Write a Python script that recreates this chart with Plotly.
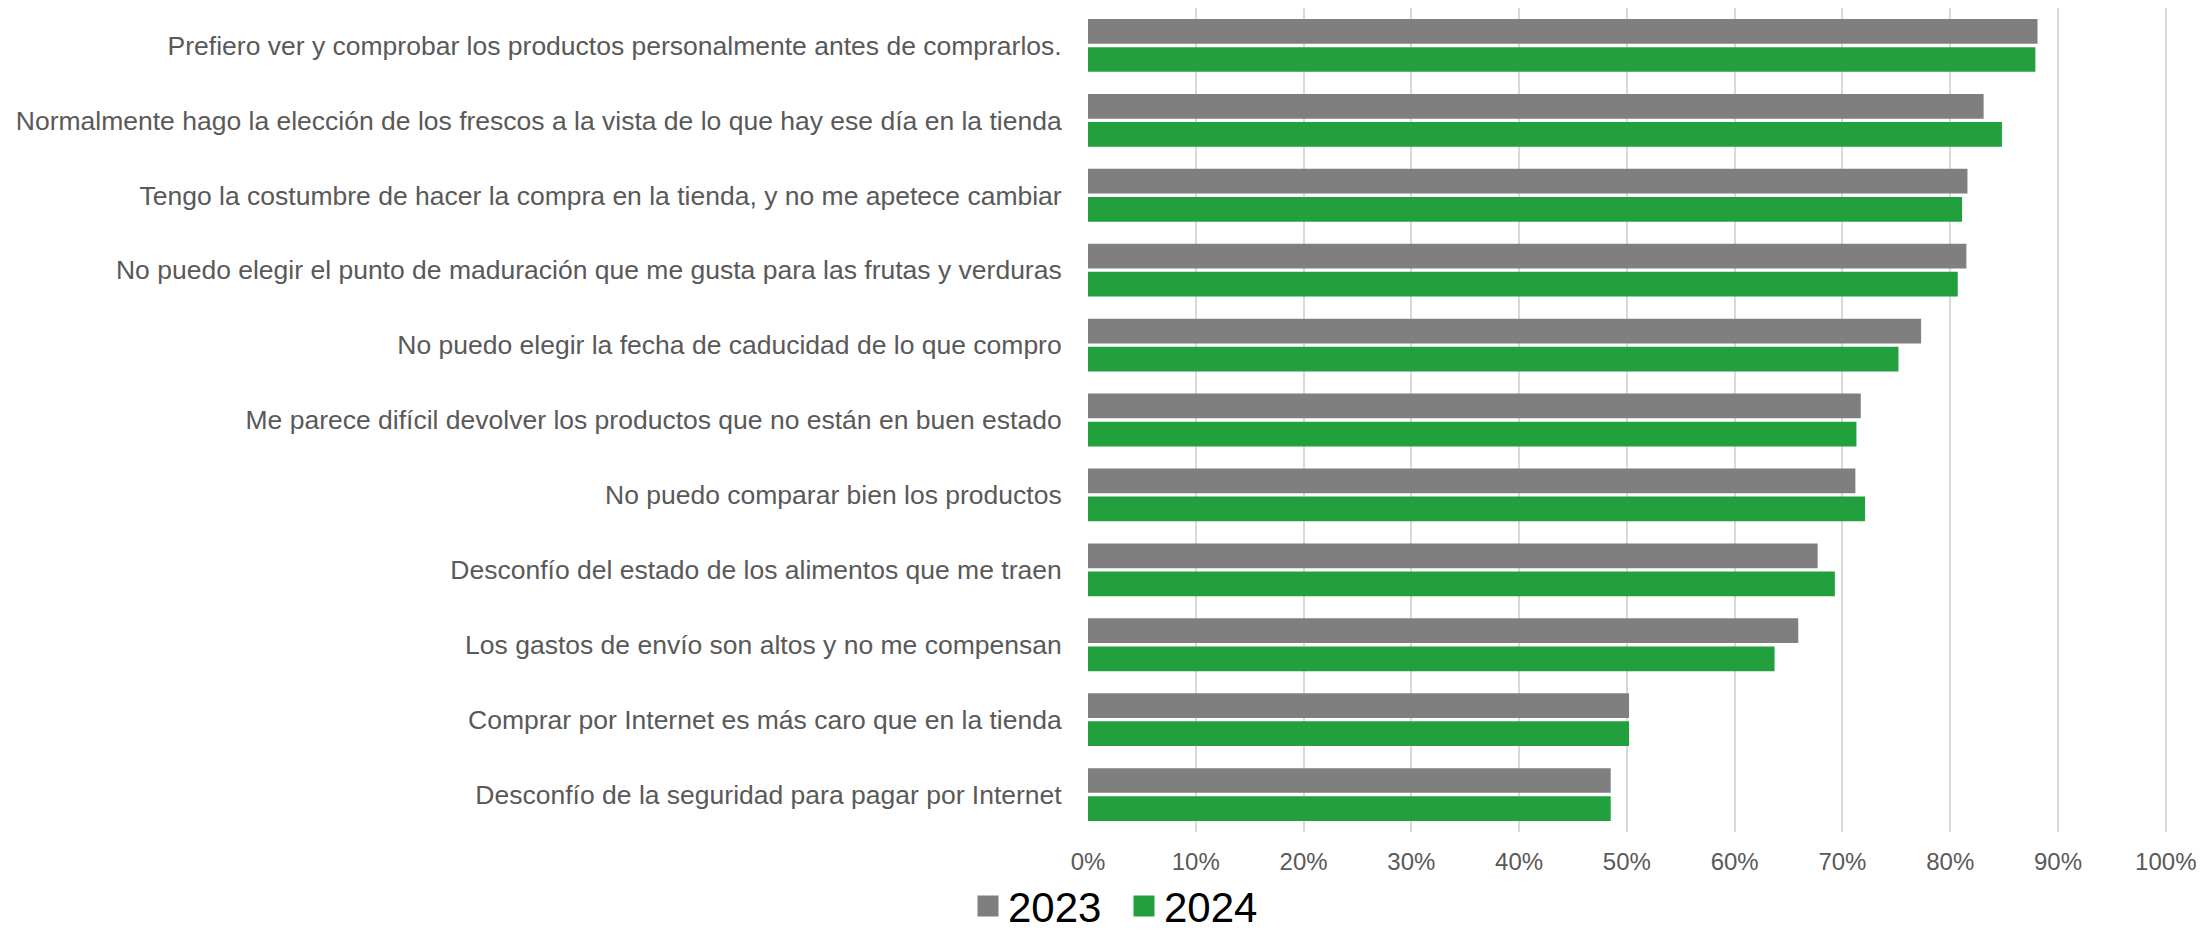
import plotly.graph_objects as go

categories = [
    "Prefiero ver y comprobar los productos personalmente antes de comprarlos.",
    "Normalmente hago la elección de los frescos a la vista de lo que hay ese día en la tienda",
    "Tengo la costumbre de hacer la compra en la tienda, y no me apetece cambiar",
    "No puedo elegir el punto de maduración que me gusta para las frutas y verduras",
    "No puedo elegir la fecha de caducidad de lo que compro",
    "Me parece difícil devolver los productos que no están en buen estado",
    "No puedo comparar bien los productos",
    "Desconfío del estado de los alimentos que me traen",
    "Los gastos de envío son altos y no me compensan",
    "Comprar por Internet es más caro que en la tienda",
    "Desconfío de la seguridad para pagar por Internet",
]
values_2023 = [0.881, 0.831, 0.816, 0.815, 0.773, 0.717, 0.712, 0.677, 0.659, 0.502, 0.485]
values_2024 = [0.879, 0.848, 0.811, 0.807, 0.752, 0.713, 0.721, 0.693, 0.637, 0.502, 0.485]
series_names = ["2023", "2024"]
tick_values = [i / 10 for i in range(11)]
tick_labels = [f"{i * 10}%" for i in range(11)]

colors = ["#7f7f7f", "#23a03e"]
FONT = "Arial, Liberation Sans, sans-serif"

fig = go.Figure()
for name, vals, col in zip(series_names, [values_2023, values_2024], colors):
    fig.add_trace(go.Bar(
        y=categories, x=vals, name=name, orientation="h",
        marker=dict(color=col, line=dict(width=0)),
        showlegend=False,
    ))
# legend entries (square swatches)
for name, col in zip(series_names, colors):
    fig.add_trace(go.Scatter(
        x=[None], y=[None], name=name, mode="markers",
        marker=dict(symbol="square", size=16, color=col, line=dict(width=5, color=col)),
        showlegend=True,
    ))

fig.update_layout(
    width=2197, height=931,
    margin=dict(l=1080, r=36, t=0, b=107, pad=0, autoexpand=False),
    paper_bgcolor="white", plot_bgcolor="white",
    barmode="group", bargap=0.25, bargroupgap=0.12,
    font=dict(family=FONT, color="#595959"),
    legend=dict(
        orientation="h", x=-0.111, xanchor="left", y=-0.09, yanchor="middle",
        font=dict(size=42, color="#000000", family=FONT),
        traceorder="normal", itemwidth=30, itemsizing="trace",
        entrywidth=111, entrywidthmode="pixels",
    ),
    showlegend=True,
)
fig.update_xaxes(
    range=[0, 1.003], tickvals=tick_values, ticktext=tick_labels,
    showgrid=True, gridcolor="#d9d9d9", gridwidth=1.5,
    zeroline=False, showline=False, automargin=False,
    ticks="outside", ticklen=8, tickcolor="rgba(0,0,0,0)",
    tickfont=dict(size=24, color="#595959", family=FONT),
)
fig.update_yaxes(
    autorange="reversed", showgrid=False, zeroline=False, showline=False, automargin=False,
    ticks="outside", ticklen=20, tickcolor="rgba(0,0,0,0)",
    tickfont=dict(size=26.5, color="#595959", family=FONT),
)

fig.write_html("out.html")
